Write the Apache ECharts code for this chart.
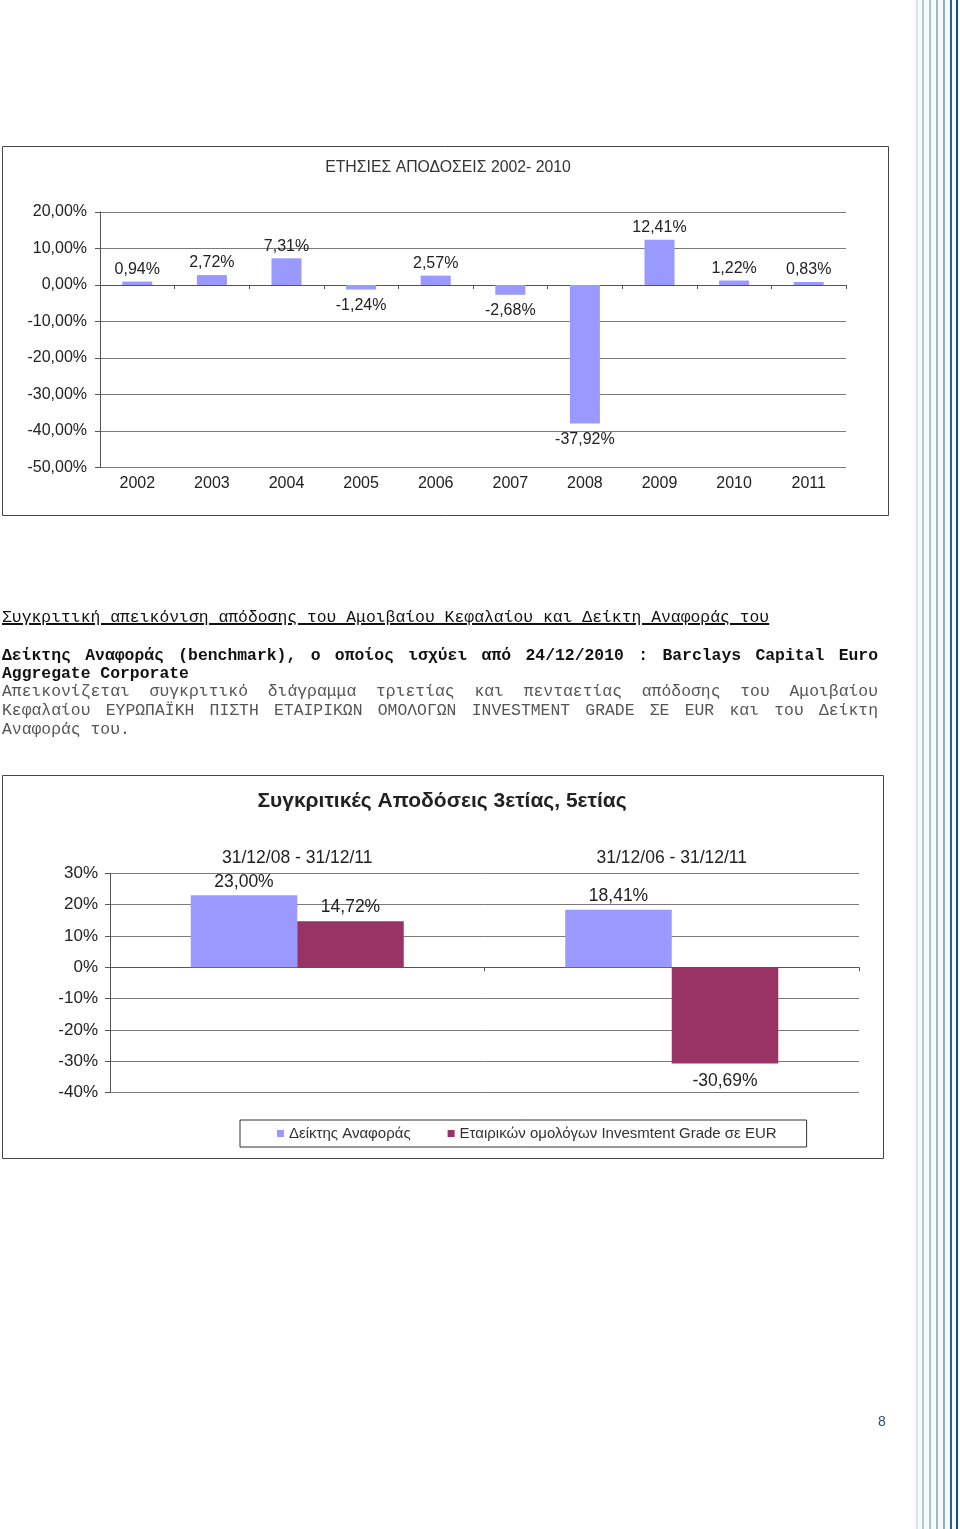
<!DOCTYPE html>
<html>
<head>
<meta charset="utf-8">
<script src="https://cdn.jsdelivr.net/npm/echarts@6.0.0/dist/echarts.min.js"></script>
<style>
  html, body { margin: 0; padding: 0; background: #fff; }
  body { width: 960px; height: 1529px; position: relative; overflow: hidden; }
  #chart { position: absolute; left: 0; top: 0; width: 960px; height: 1529px; }
  .ln { position: absolute; left: 2px; font-family: "Liberation Mono", "Courier New", monospace; font-size: 16.4px; line-height: 19px; white-space: nowrap; z-index: 2; }
  .just { width: 876px; text-align: justify; text-align-last: justify; white-space: normal; }
  .b { font-weight: bold; color: #111; }
  .g { color: #555; }
  .stripe { position: absolute; top: 0; height: 1529px; }
  #pagenum { position: absolute; left: 878px; top: 1413px; font-family: "Liberation Sans", Arial, sans-serif; font-size: 14px; color: #2f4f7f; }
</style>
</head>
<body>
<div id="chart"></div>

<div class="ln" style="top:608px; color:#111; text-decoration: underline; text-decoration-thickness: 1.5px;">Συγκριτική απεικόνιση απόδοσης του Αμοιβαίου Κεφαλαίου και Δείκτη Αναφοράς του</div>
<div class="ln b just" style="top:645.5px;">Δείκτης Αναφοράς (benchmark), ο οποίος ισχύει από 24/12/2010 : Barclays Capital Euro</div>
<div class="ln b" style="top:663.5px;">Aggregate Corporate</div>
<div class="ln g just" style="top:682px;">Απεικονίζεται συγκριτικό διάγραμμα τριετίας και πενταετίας απόδοσης του Αμοιβαίου</div>
<div class="ln g just" style="top:701px;">Κεφαλαίου ΕΥΡΩΠΑΪΚΗ ΠΙΣΤΗ ΕΤΑΙΡΙΚΩΝ ΟΜΟΛΟΓΩΝ INVESTMENT GRADE ΣΕ EUR και του Δείκτη</div>
<div class="ln g" style="top:720px;">Αναφοράς του.</div>

<div id="pagenum">8</div>
<div id="stripes"></div>

<script>
// ---------- data ----------
const years = ['2002', '2003', '2004', '2005', '2006', '2007', '2008', '2009', '2010', '2011'];
const annualReturns = [0.94, 2.72, 7.31, -1.24, 2.57, -2.68, -37.92, 12.41, 1.22, 0.83];

const periods = ['31/12/08 - 31/12/11', '31/12/06 - 31/12/11'];
const benchmarkReturns = [23.00, 18.41];
const fundReturns = [14.72, -30.69];
const seriesNames = ['Δείκτης Αναφοράς', 'Εταιρικών ομολόγων Invesmtent Grade σε EUR'];

const chart1Title = 'ΕΤΗΣΙΕΣ ΑΠΟΔΟΣΕΙΣ 2002- 2010';
const chart2Title = 'Συγκριτικές Αποδόσεις 3ετίας, 5ετίας';

// ---------- decorative stripes on the right ----------
const stripeSpecs = [
  [915, 45, '#f5fafb'],
  [916, 2, '#d6e5ea'],
  [922, 2, '#b7c9d2'],
  [929, 2, '#a8c5d3'],
  [936, 2, '#9abbcb'],
  [942.5, 2, '#8bb0c4'],
  [949.5, 2.5, '#2f5f8f'],
  [955.5, 2.5, '#1f4b7a']
];
const sw = document.getElementById('stripes');
stripeSpecs.forEach(s => {
  const d = document.createElement('div');
  d.className = 'stripe';
  d.style.left = s[0] + 'px';
  d.style.width = s[1] + 'px';
  d.style.background = s[2];
  sw.appendChild(d);
});

// ---------- chart ----------
const FONT = '"Liberation Sans", Arial, sans-serif';
const pct2 = v => v.toFixed(2).replace('.', ',') + '%';

const chart = echarts.init(document.getElementById('chart'), null, { renderer: 'canvas' });

const labelPos = (posDist, negDist) => v => ({
  value: v,
  label: { position: v >= 0 ? 'top' : 'bottom', distance: v >= 0 ? posDist : negDist }
});

const option = {
  animation: false,
  backgroundColor: 'transparent',
  textStyle: { fontFamily: FONT },
  graphic: [
    { type: 'rect', shape: { x: 2.5, y: 146.5, width: 886, height: 369 }, style: { fill: 'none', stroke: '#444', lineWidth: 1 }, z: 0 },
    { type: 'rect', shape: { x: 2.5, y: 775.5, width: 881, height: 383 }, style: { fill: 'none', stroke: '#444', lineWidth: 1 }, z: 0 },
    { type: 'text', x: 448, y: 168, style: { text: chart1Title, font: '15.8px ' + FONT, fill: '#333', textAlign: 'center', textVerticalAlign: 'middle' } },
    { type: 'text', x: 442, y: 801, style: { text: chart2Title, font: 'bold 21px ' + FONT, fill: '#222', textAlign: 'center', textVerticalAlign: 'middle' } }
  ],
  legend: {
    data: seriesNames,
    left: 240, top: 1120,
    orient: 'horizontal',
    icon: 'rect', itemWidth: 7, itemHeight: 7, itemGap: 37,
    padding: [6, 30, 6, 37],
    borderColor: '#333', borderWidth: 1,
    textStyle: { fontSize: 15, color: '#333', fontFamily: FONT }
  },
  grid: [
    { left: 100, top: 212, width: 746, height: 255.5 },
    { left: 110, top: 873.3, width: 749, height: 219.4 }
  ],
  xAxis: [
    { type: 'category', gridIndex: 0, data: years, position: 'bottom',
      axisLine: { onZero: true, lineStyle: { color: '#555', width: 1 } },
      axisTick: { show: true, length: 4, lineStyle: { color: '#555' } },
      axisLabel: { show: false }, splitLine: { show: false } },
    { type: 'category', gridIndex: 0, data: years, position: 'bottom',
      axisLine: { show: false, onZero: false }, axisTick: { show: false },
      axisLabel: { show: true, fontSize: 16, color: '#222', margin: 8, fontFamily: FONT }, splitLine: { show: false } },
    { type: 'category', gridIndex: 1, data: periods, position: 'bottom',
      axisLine: { onZero: true, lineStyle: { color: '#555', width: 1 } },
      axisTick: { show: true, length: 4, lineStyle: { color: '#555' } },
      axisLabel: { show: false }, splitLine: { show: false } },
    { type: 'category', gridIndex: 1, data: periods, position: 'top',
      axisLine: { show: false, onZero: false }, axisTick: { show: false },
      axisLabel: { show: true, fontSize: 17.5, color: '#222', margin: 6, fontFamily: FONT }, splitLine: { show: false } }
  ],
  yAxis: [
    { type: 'value', gridIndex: 0, min: -50, max: 20, interval: 10,
      axisLine: { show: true, lineStyle: { color: '#555' } },
      axisTick: { show: true, length: 5, lineStyle: { color: '#555' } },
      axisLabel: { formatter: pct2, fontSize: 16, color: '#222', margin: 13, fontFamily: FONT },
      splitLine: { show: true, lineStyle: { color: '#7a7a7a', width: 1 } } },
    { type: 'value', gridIndex: 1, min: -40, max: 30, interval: 10,
      axisLine: { show: true, lineStyle: { color: '#555' } },
      axisTick: { show: true, length: 5, lineStyle: { color: '#555' } },
      axisLabel: { formatter: v => v + '%', fontSize: 17, color: '#222', margin: 12, fontFamily: FONT },
      splitLine: { show: true, lineStyle: { color: '#7a7a7a', width: 1 } } }
  ],
  series: [
    { type: 'bar', name: 'annual', xAxisIndex: 0, yAxisIndex: 0,
      data: annualReturns.map(labelPos(4, 8)), barWidth: 30,
      itemStyle: { color: '#9999FF' },
      label: { show: true, formatter: p => pct2(p.value), fontSize: 16, color: '#222', fontFamily: FONT } },
    { type: 'bar', name: seriesNames[0], xAxisIndex: 2, yAxisIndex: 1,
      data: benchmarkReturns.map(labelPos(4, 9)), barWidth: 106.5, barGap: '0%',
      itemStyle: { color: '#9999FF' },
      label: { show: true, formatter: p => pct2(p.value), fontSize: 17.5, color: '#222', fontFamily: FONT } },
    { type: 'bar', name: seriesNames[1], xAxisIndex: 2, yAxisIndex: 1,
      data: fundReturns.map(labelPos(5, 9)), barWidth: 106.5, barGap: '0%',
      itemStyle: { color: '#993366' },
      label: { show: true, formatter: p => pct2(p.value), fontSize: 17.5, color: '#222', fontFamily: FONT } }
  ]
};
chart.setOption(option);
</script>
</body>
</html>
